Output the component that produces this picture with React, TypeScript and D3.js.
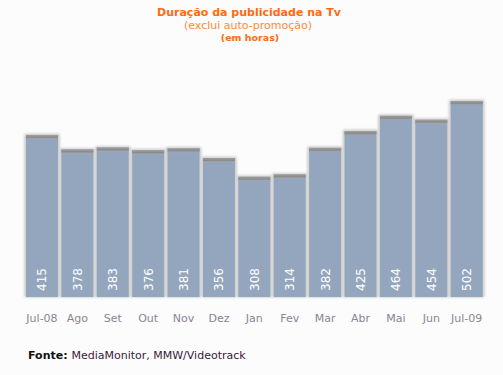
import React from 'react';
import * as d3 from 'd3';

const months = ['Jul-08', 'Ago', 'Set', 'Out', 'Nov', 'Dez', 'Jan', 'Fev', 'Mar', 'Abr', 'Mai', 'Jun', 'Jul-09'];
const hours = [415, 378, 383, 376, 381, 356, 308, 314, 382, 425, 464, 454, 502];

const W = 503;
const H = 375;
const FONT = '"DejaVu Sans", Verdana, sans-serif';

export default function App() {
  const x = d3.scaleBand<string>()
    .domain(months)
    .range([24.3, 484.4])
    .paddingInner(0.096)
    .paddingOuter(0.048);
  const y = d3.scaleLinear().domain([0, 502]).range([297, 101]);
  const bw = x.bandwidth();

  return (
    <svg width={W} height={H} style={{ position: 'absolute', left: 0, top: 0, background: '#fcfcfc' }}>
      <defs>
        <linearGradient id="cap" x1="0" y1="0" x2="0" y2="1">
          <stop offset="0" stopColor="#a0a0a0" />
          <stop offset="0.6" stopColor="#8a8a8a" />
          <stop offset="1" stopColor="#a4abb6" />
        </linearGradient>
        <filter id="soft" x="-20%" y="-20%" width="140%" height="140%">
          <feGaussianBlur stdDeviation="0.8" />
        </filter>
      </defs>
      <rect width={W} height={H} fill="#fcfcfc" />
      <text x={249} y={16} textAnchor="middle" fontFamily={FONT} fontWeight="bold" fontSize={11} fill="#ff6a10">
        Duração da publicidade na Tv
      </text>
      <text x={248} y={29} textAnchor="middle" fontFamily={FONT} fontSize={11} fill="#ff8a3a">
        (exclui auto-promoção)
      </text>
      <text x={250} y={41} textAnchor="middle" fontFamily={FONT} fontWeight="bold" fontSize={9.5} fill="#ff6a10">
        (em horas)
      </text>

      {months.map((m, i) => {
        const x0 = x(m) as number;
        const top = y(hours[i]);
        return (
          <g key={m}>
            <rect x={x0 - 2} y={top - 1.5} width={bw + 4} height={y(0) - top + 2} rx={2}
              fill="#cfcfcf" filter="url(#soft)" />
            <rect x={x0} y={top} width={bw} height={y(0) - top} fill="#94a6bd" />
            <rect x={x0} y={top} width={bw} height={4} fill="url(#cap)" />
            <text transform={`translate(${x0 + bw / 2 + 4.5},291) rotate(-90)`} fontFamily={FONT}
              fontSize={12} fill="#ffffff">
              {hours[i]}
            </text>
            <text x={x0 + bw / 2} y={322} textAnchor="middle" fontFamily={FONT} fontSize={11} fill="#8a8494">
              {m}
            </text>
          </g>
        );
      })}

      <text x={28} y={359} fontFamily={FONT} fontSize={11} fill="#3a1a3a">
        <tspan fontWeight="bold" fill="#111111">Fonte: </tspan>
        <tspan>MediaMonitor, MMW/Videotrack</tspan>
      </text>
    </svg>
  );
}
